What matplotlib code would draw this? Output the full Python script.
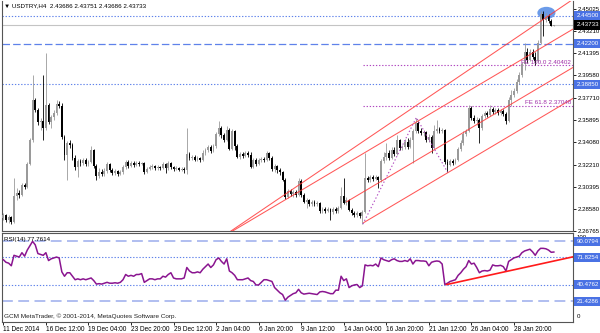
import numpy as np
import matplotlib.pyplot as plt
import matplotlib.transforms as mtransforms
from matplotlib.patches import Ellipse

plt.rcParams['font.family'] = ['Liberation Sans', 'DejaVu Sans']

# USDTRY H4 bars
opens = [
    2.2783, 2.2808, 2.2766, 2.2791, 2.2750, 2.2964, 2.2988, 2.2972, 2.3055, 2.3038,
    2.3228, 2.3425, 2.3755, 2.3673, 2.3574, 2.3582, 2.3524, 2.3714, 2.3574, 2.3615,
    2.3648, 2.3722, 2.3706, 2.3450, 2.3302, 2.3400, 2.3384, 2.3277, 2.3203, 2.3253,
    2.3236, 2.3261, 2.3228, 2.3245, 2.3343, 2.3212, 2.3129, 2.3162, 2.3145, 2.3170,
    2.3228, 2.3178, 2.3153, 2.3170, 2.3145, 2.3162, 2.3203, 2.3245, 2.3212, 2.3236,
    2.3220, 2.3236, 2.3228, 2.3236, 2.3162, 2.3187, 2.3203, 2.3212, 2.3195, 2.3203,
    2.3195, 2.3228, 2.3195, 2.3236, 2.3203, 2.3187, 2.3195, 2.3178, 2.3187, 2.3178,
    2.3310, 2.3277, 2.3285, 2.3261, 2.3277, 2.3261, 2.3318, 2.3343, 2.3367, 2.3335,
    2.3376, 2.3475, 2.3524, 2.3467, 2.3425, 2.3508, 2.3351, 2.3500, 2.3376, 2.3285,
    2.3310, 2.3294, 2.3318, 2.3302, 2.3203, 2.3261, 2.3228, 2.3261, 2.3269, 2.3261,
    2.3318, 2.3277, 2.3187, 2.3212, 2.3178, 2.3162, 2.3096, 2.2955, 2.3005, 2.2980,
    2.2997, 2.2972, 2.3088, 2.2972, 2.2915, 2.2931, 2.2898, 2.2915, 2.2898, 2.2906,
    2.2841, 2.2857, 2.2841, 2.2857, 2.2833, 2.2857, 2.2841, 2.2865, 2.2964, 2.2906,
    2.2931, 2.2849, 2.2824, 2.2808, 2.2824, 2.2800, 2.2833, 2.3112, 2.3096, 2.3120,
    2.3104, 2.3120, 2.3096, 2.3253, 2.3285, 2.3318, 2.3277, 2.3343, 2.3310, 2.3425,
    2.3359, 2.3367, 2.3409, 2.3367, 2.3425, 2.3500, 2.3565, 2.3500, 2.3483, 2.3492,
    2.3425, 2.3450, 2.3359, 2.3500, 2.3516, 2.3500, 2.3508, 2.3245, 2.3220, 2.3253,
    2.3236, 2.3261, 2.3351, 2.3400, 2.3475, 2.3500, 2.3689, 2.3607, 2.3582, 2.3590,
    2.3524, 2.3624, 2.3648, 2.3632, 2.3681, 2.3657, 2.3673, 2.3648, 2.3665, 2.3640,
    2.3582, 2.3755, 2.3796, 2.3829, 2.3904, 2.3961, 2.4052, 2.4151, 2.4085, 2.4151,
    2.4109, 2.4077, 2.4224, 2.4464, 2.4414, 2.4448, 2.4406, 2.43686,
]
highs = [
    2.2824, 2.2816, 2.2808, 2.2800, 2.3112, 2.3030, 2.3013, 2.3071, 2.3071, 2.3245,
    2.3442, 2.3961, 2.3771, 2.3689, 2.3607, 2.3961, 2.4142, 2.3730, 2.3632, 2.3673,
    2.3755, 2.3747, 2.3730, 2.3467, 2.3417, 2.3425, 2.3400, 2.3302, 2.3269, 2.3269,
    2.3277, 2.3277, 2.3261, 2.3376, 2.3351, 2.3228, 2.3195, 2.3187, 2.3195, 2.3245,
    2.3236, 2.3195, 2.3187, 2.3178, 2.3178, 2.3220, 2.3261, 2.3261, 2.3253, 2.3253,
    2.3253, 2.3253, 2.3245, 2.3245, 2.3203, 2.3220, 2.3228, 2.3220, 2.3220, 2.3212,
    2.3245, 2.3236, 2.3253, 2.3245, 2.3212, 2.3212, 2.3203, 2.3203, 2.3203, 2.3524,
    2.3327, 2.3302, 2.3302, 2.3294, 2.3285, 2.3343, 2.3359, 2.3384, 2.3384, 2.3392,
    2.3492, 2.3582, 2.3541, 2.3483, 2.3541, 2.3524, 2.3516, 2.3508, 2.3392, 2.3327,
    2.3327, 2.3335, 2.3335, 2.3327, 2.3277, 2.3277, 2.3277, 2.3285, 2.3285, 2.3335,
    2.3327, 2.3294, 2.3228, 2.3220, 2.3195, 2.3170, 2.3112, 2.3022, 2.3022, 2.3013,
    2.3013, 2.3112, 2.3104, 2.2988, 2.2947, 2.2939, 2.2931, 2.2931, 2.2923, 2.2915,
    2.2873, 2.2873, 2.2873, 2.2865, 2.2873, 2.2873, 2.2882, 2.3038, 2.3112, 2.2955,
    2.2939, 2.2865, 2.2841, 2.2841, 2.2833, 2.2849, 2.3318, 2.3129, 2.3137, 2.3137,
    2.3137, 2.3129, 2.3269, 2.3327, 2.3400, 2.3343, 2.3367, 2.3367, 2.3467, 2.3434,
    2.3384, 2.3434, 2.3442, 2.3450, 2.3516, 2.3611, 2.3582, 2.3524, 2.3508, 2.3500,
    2.3475, 2.3467, 2.3549, 2.3590, 2.3532, 2.3524, 2.3516, 2.3269, 2.3269, 2.3269,
    2.3277, 2.3367, 2.3425, 2.3500, 2.3516, 2.3714, 2.3706, 2.3632, 2.3615, 2.3607,
    2.3640, 2.3665, 2.3665, 2.3714, 2.3697, 2.3689, 2.3689, 2.3681, 2.3681, 2.3657,
    2.3779, 2.3837, 2.3854, 2.3928, 2.3986, 2.4069, 2.4224, 2.4183, 2.4175, 2.4175,
    2.4151, 2.4249, 2.4489, 2.4489, 2.4472, 2.4464, 2.4423, 2.43751,
]
lows = [
    2.2766, 2.2750, 2.2741, 2.2733, 2.2741, 2.2931, 2.2947, 2.2964, 2.3022, 2.3030,
    2.3220, 2.3409, 2.3657, 2.3549, 2.3508, 2.3425, 2.3508, 2.3557, 2.3524, 2.3590,
    2.3632, 2.3689, 2.3434, 2.3261, 2.3096, 2.3359, 2.3261, 2.3178, 2.3120, 2.3212,
    2.3220, 2.3212, 2.3212, 2.3236, 2.3195, 2.3096, 2.3112, 2.3129, 2.3129, 2.3153,
    2.3162, 2.3137, 2.3137, 2.3129, 2.3137, 2.3145, 2.3187, 2.3195, 2.3203, 2.3203,
    2.3212, 2.3212, 2.3220, 2.3145, 2.3153, 2.3178, 2.3187, 2.3178, 2.3178, 2.3178,
    2.3187, 2.3153, 2.3178, 2.3187, 2.3170, 2.3178, 2.3170, 2.3170, 2.3153, 2.3145,
    2.3261, 2.3261, 2.3253, 2.3253, 2.3245, 2.3253, 2.3302, 2.3327, 2.3318, 2.3327,
    2.3359, 2.3459, 2.3442, 2.3409, 2.3417, 2.3343, 2.3343, 2.3343, 2.3277, 2.3269,
    2.3277, 2.3285, 2.3285, 2.3195, 2.3195, 2.3212, 2.3220, 2.3245, 2.3245, 2.3253,
    2.3261, 2.3170, 2.3162, 2.3153, 2.3137, 2.3088, 2.2939, 2.2947, 2.2964, 2.2955,
    2.2955, 2.2964, 2.2955, 2.2906, 2.2865, 2.2882, 2.2882, 2.2882, 2.2882, 2.2824,
    2.2824, 2.2824, 2.2833, 2.2766, 2.2816, 2.2824, 2.2824, 2.2857, 2.2898, 2.2890,
    2.2841, 2.2808, 2.2791, 2.2791, 2.2783, 2.2733, 2.2824, 2.3080, 2.3080, 2.3088,
    2.3096, 2.3030, 2.3080, 2.3236, 2.3261, 2.3261, 2.3269, 2.3294, 2.3302, 2.3343,
    2.3343, 2.3351, 2.3351, 2.3359, 2.3236, 2.3483, 2.3483, 2.3467, 2.3459, 2.3409,
    2.3409, 2.3318, 2.3351, 2.3483, 2.3483, 2.3483, 2.3228, 2.3162, 2.3212, 2.3220,
    2.3228, 2.3253, 2.3335, 2.3384, 2.3459, 2.3492, 2.3590, 2.3565, 2.3549, 2.3400,
    2.3508, 2.3607, 2.3615, 2.3624, 2.3640, 2.3640, 2.3632, 2.3632, 2.3624, 2.3557,
    2.3574, 2.3706, 2.3779, 2.3812, 2.3887, 2.3944, 2.4002, 2.4060, 2.4077, 2.4093,
    2.4044, 2.4069, 2.4216, 2.4283, 2.4398, 2.4389, 2.4365, 2.43686,
]
closes = [
    2.2808, 2.2766, 2.2791, 2.2750, 2.2964, 2.2988, 2.2972, 2.3055, 2.3038, 2.3228,
    2.3425, 2.3755, 2.3673, 2.3574, 2.3582, 2.3524, 2.3714, 2.3574, 2.3615, 2.3648,
    2.3722, 2.3706, 2.3450, 2.3302, 2.3400, 2.3384, 2.3277, 2.3203, 2.3253, 2.3236,
    2.3261, 2.3228, 2.3245, 2.3343, 2.3212, 2.3129, 2.3162, 2.3145, 2.3170, 2.3228,
    2.3178, 2.3153, 2.3170, 2.3145, 2.3162, 2.3203, 2.3245, 2.3212, 2.3236, 2.3220,
    2.3236, 2.3228, 2.3236, 2.3162, 2.3187, 2.3203, 2.3212, 2.3195, 2.3203, 2.3195,
    2.3228, 2.3195, 2.3236, 2.3203, 2.3187, 2.3195, 2.3178, 2.3187, 2.3178, 2.3310,
    2.3277, 2.3285, 2.3261, 2.3277, 2.3261, 2.3318, 2.3343, 2.3367, 2.3335, 2.3376,
    2.3475, 2.3524, 2.3467, 2.3425, 2.3508, 2.3351, 2.3500, 2.3376, 2.3285, 2.3310,
    2.3294, 2.3318, 2.3302, 2.3203, 2.3261, 2.3228, 2.3261, 2.3269, 2.3261, 2.3318,
    2.3277, 2.3187, 2.3212, 2.3178, 2.3162, 2.3096, 2.2955, 2.3005, 2.2980, 2.2997,
    2.2972, 2.3088, 2.2972, 2.2915, 2.2931, 2.2898, 2.2915, 2.2898, 2.2906, 2.2841,
    2.2857, 2.2841, 2.2857, 2.2833, 2.2857, 2.2841, 2.2865, 2.2964, 2.2906, 2.2931,
    2.2849, 2.2824, 2.2808, 2.2824, 2.2800, 2.2833, 2.3112, 2.3096, 2.3120, 2.3104,
    2.3120, 2.3096, 2.3253, 2.3285, 2.3318, 2.3277, 2.3343, 2.3310, 2.3425, 2.3359,
    2.3367, 2.3409, 2.3367, 2.3425, 2.3500, 2.3565, 2.3500, 2.3483, 2.3492, 2.3425,
    2.3450, 2.3359, 2.3500, 2.3516, 2.3500, 2.3508, 2.3245, 2.3220, 2.3253, 2.3236,
    2.3261, 2.3351, 2.3400, 2.3475, 2.3500, 2.3689, 2.3607, 2.3582, 2.3590, 2.3524,
    2.3624, 2.3648, 2.3632, 2.3681, 2.3657, 2.3673, 2.3648, 2.3665, 2.3640, 2.3582,
    2.3755, 2.3796, 2.3829, 2.3904, 2.3961, 2.4052, 2.4151, 2.4085, 2.4151, 2.4109,
    2.4077, 2.4224, 2.4464, 2.4414, 2.4448, 2.4406, 2.4369, 2.43733,
]
rsi = [
    69, 66, 65, 62, 74, 73, 72, 77, 73, 80,
    85, 90, 86, 76, 75, 74, 77, 68, 70, 71,
    72, 71, 55, 50, 54, 54, 50, 46, 47, 46,
    47, 46, 47, 48, 45, 41, 41.5, 41, 42, 43,
    42, 42, 42.5, 42, 43, 46, 52, 50, 51, 50,
    52, 52, 53, 43, 45, 47, 47, 46, 47, 47,
    50, 49, 52, 54, 48, 47, 47, 47, 48, 60,
    56, 54, 54, 55, 54, 58, 61, 64, 60, 63,
    69, 71, 67, 64, 70, 56, 54, 51, 46, 46,
    46, 47, 48, 45, 44, 40, 40, 43, 46, 46,
    45, 44, 37, 34, 31, 29, 22.5, 26, 28, 30,
    31, 35, 31, 29.5, 30, 30.5, 30, 29.5, 29, 32,
    32.5, 32, 31, 30, 30, 34, 34, 50, 45, 47,
    37, 39, 40, 40.5, 37, 39, 63, 62, 62.5, 62,
    64, 61, 71, 69, 68, 67, 69, 70, 68, 67,
    67, 68, 67, 70, 64, 68, 68, 67.5, 67.5, 67,
    62, 66, 67, 67.5, 67, 64, 40.5, 42, 44, 45,
    46, 51, 54, 58, 61, 68, 64, 65, 60, 54,
    56, 56.5, 56, 57, 63, 62, 62, 62.5, 61, 56,
    67, 69, 71, 72, 73, 77, 79, 80, 81, 78,
    74, 79, 82, 82, 81.5, 80, 77.5, 77.76,
]

date_pos = [0, 16, 32, 48, 64, 80, 96, 112, 128, 144, 160, 176, 192]
date_labels = ["11 Dec 2014", "16 Dec 12:00", "19 Dec 04:00", "23 Dec 20:00",
               "29 Dec 12:00", "2 Jan 04:00", "6 Jan 20:00", "9 Jan 12:00",
               "14 Jan 04:00", "16 Jan 20:00", "21 Jan 12:00", "26 Jan 04:00",
               "28 Jan 20:00"]
price_ticks = [2.45025, 2.43210, 2.41395, 2.39580, 2.37710, 2.35895,
               2.34080, 2.32210, 2.30395, 2.28580, 2.26765]

dotted_levels = [2.44500, 2.38850]
dashed_levels = [2.42200]
bid = 2.43733

# equidistant channel lines: (start bar, start price, end bar, end price)
channel_lines = [
    (60, 2.2296, 215, 2.4597),
    (60, 2.2335, 215, 2.4350),
    (129.1, 2.2917, 215, 2.4034),
    (135.5, 2.2745, 215, 2.3779),
]
# fibo expansion swing points and levels
fe_x = [135.2, 155.3, 167.0]
fe_y = [2.2733, 2.3611, 2.3162]
fe_levels = [2.40402, 2.37048]
fe_names = ["FE 100.0 2.40402", "FE 61.8 2.37048"]

rsi_dashed = [90.0794, 21.4286]
rsi_dotted = [71.8254, 40.4762]
rsi_trend_x = [166.7, 215]
rsi_trend_y = [40.48, 72.8]

BULL = '#9a9a9a'
BEAR = '#000000'
BLUE = '#5f82ea'
LIGHTBLUE = '#aab9ef'
BOXBLUE = '#4a72e4'
RED = '#ff3a3a'
PINK = '#b048c0'
PURPLE = '#8a1590'

W, H = 600, 333
fig = plt.figure(figsize=(6, 3.33), dpi=100)


def fx(px):
    return px / W


def fy(py):
    return 1 - py / H


ax = fig.add_axes([fx(2), fy(231), fx(573) - fx(2), fy(1) - fy(231)])
rx = fig.add_axes([fx(2), fy(322), fx(573) - fx(2), fy(233) - fy(322)])

xlim = (-0.5, 214.2)

# ---- price panel ----
idx = np.arange(len(closes))
o = np.array(opens)
c = np.array(closes)
h = np.array(highs)
lo = np.array(lows)
cols = np.where(c >= o, BULL, BEAR)

ell = Ellipse((204.2, 2.4473), width=6.8, height=0.0100, fc='#6b9be9', ec='none', zorder=1)
ax.add_patch(ell)

ax.vlines(idx, lo, h, colors=cols, lw=0.6, zorder=3)
body = np.maximum(np.abs(c - o), 0.00012)
ax.bar(idx, body, bottom=np.minimum(o, c), width=0.7, color=cols, lw=0, zorder=3)

for lv in dotted_levels:
    ax.axhline(lv, color=BLUE, lw=0.8, ls=(0, (1.2, 1.6)), zorder=2)
for lv in dashed_levels:
    ax.axhline(lv, color=BLUE, lw=0.9, ls=(0, (6, 2.5)), zorder=2)
ax.axhline(bid, color='#c4c4c4', lw=0.8, zorder=2)

for x0, y0, x1, y1 in channel_lines:
    ax.plot([x0, x1], [y0, y1], color=RED, lw=0.75, alpha=0.85, zorder=4)

ax.plot(fe_x, fe_y, color=PINK, lw=0.8, ls=(0, (1.2, 2.0)), zorder=4)
ax.hlines(fe_levels, fe_x[0], 215, colors=PINK, lw=0.8, linestyles=[(0, (1.2, 1.6))], zorder=2)
for lv, name in zip(fe_levels, fe_names):
    ax.text(213.5, lv + 0.0006, name, ha='right', va='bottom', fontsize=4.5,
            color='#a030a8', zorder=5)

ax.set_xlim(*xlim)
ax.set_ylim(2.2676, 2.4571)
ax.yaxis.tick_right()
ax.set_yticks(price_ticks)
ax.set_yticklabels([f"{v:.5f}" for v in price_ticks])
ax.tick_params(axis='y', length=2, width=0.6, pad=1.5, labelsize=4.4)
ax.tick_params(axis='x', bottom=False, labelbottom=False)

trans = mtransforms.blended_transform_factory(ax.transAxes, ax.transData)
trans = mtransforms.offset_copy(trans, fig=fig, x=3.5, y=0, units='dots')
for lv in dotted_levels + dashed_levels:
    ax.text(1.0, lv, f"{lv:.5f}", transform=trans, ha='left', va='center', fontsize=4.4,
            color='white', clip_on=False, zorder=6,
            bbox=dict(boxstyle='square,pad=0.35', fc=BOXBLUE, ec='none'))
ax.text(1.0, bid, f"{bid:.5f}", transform=trans, ha='left', va='center', fontsize=4.4,
        color='white', clip_on=False, zorder=6,
        bbox=dict(boxstyle='square,pad=0.35', fc='black', ec='none'))

# ---- RSI panel ----
rx.plot(idx, rsi, color=PURPLE, lw=1.1, zorder=4)
for lv in rsi_dashed:
    rx.axhline(lv, color=LIGHTBLUE, lw=1.3, ls=(0, (6, 3)), zorder=2)
for lv in rsi_dotted:
    rx.axhline(lv, color=BLUE, lw=0.8, ls=(0, (1.2, 1.6)), zorder=2)
rx.plot(rsi_trend_x, rsi_trend_y, color='#ff1a1a', lw=1.2, zorder=5)

rx.set_xlim(*xlim)
rx.set_ylim(-2.5, 99.6)
rx.yaxis.tick_right()
rx.set_yticks([])
rtrans = mtransforms.blended_transform_factory(rx.transAxes, rx.transData)
rtrans = mtransforms.offset_copy(rtrans, fig=fig, x=3.5, y=0, units='dots')
rx.text(1.0, 95, "100", transform=rtrans, ha='left', va='center', fontsize=4.4, clip_on=False)
rx.text(1.0, 4, "0", transform=rtrans, ha='left', va='center', fontsize=4.4, clip_on=False)
for lv in rsi_dashed + rsi_dotted:
    rx.text(1.0, lv, f"{lv:.4f}", transform=rtrans, ha='left', va='center', fontsize=4.4,
            color='white', clip_on=False, zorder=6,
            bbox=dict(boxstyle='square,pad=0.35', fc=BOXBLUE, ec='none'))

rx.set_xticks(date_pos)
rx.set_xticklabels(date_labels)
rx.tick_params(axis='x', length=2, width=0.6, pad=1, labelsize=4.7)
for lab in rx.get_xticklabels():
    lab.set_horizontalalignment('left')

for a in (ax, rx):
    for s in a.spines.values():
        s.set_color('#555555')
        s.set_linewidth(0.8)
ax.spines['top'].set_visible(False)

fig.text(fx(4), fy(6), "\u25bc USDTRY,H4  2.43686 2.43751 2.43686 2.43733",
         fontsize=4.5, va='center', ha='left')
fig.text(fx(4), fy(239), "RSI(14) 77.7614", fontsize=4.5, va='center', ha='left')
fig.text(fx(4), fy(316), "GCM MetaTrader, \u00a9 2001-2014, MetaQuotes Software Corp.",
         fontsize=4.6, va='center', ha='left', color='#202020')

fig.savefig('out.png', dpi=100)
